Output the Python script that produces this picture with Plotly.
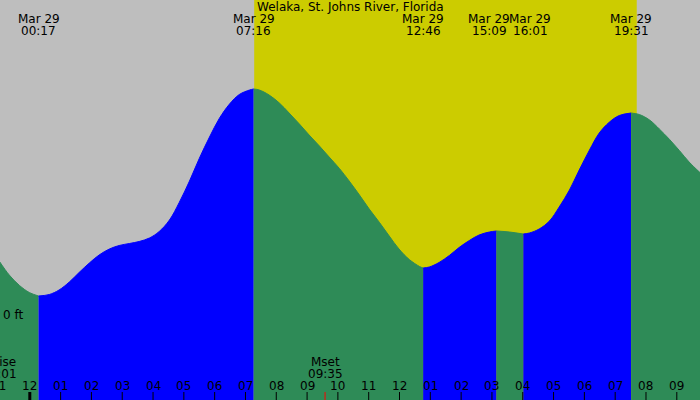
import plotly.graph_objects as go
import pandas as pd

title = "Welaka, St. Johns River, Florida"

# Water level readings (ft)
times = [
    "2025-03-28 23:01", "2025-03-28 23:20", "2025-03-28 23:40", "2025-03-28 23:59",
    "2025-03-29 00:17",
    "2025-03-29 00:38", "2025-03-29 00:57", "2025-03-29 01:17", "2025-03-29 01:36",
    "2025-03-29 01:56", "2025-03-29 02:15", "2025-03-29 02:35", "2025-03-29 02:54",
    "2025-03-29 03:14", "2025-03-29 03:33", "2025-03-29 03:53", "2025-03-29 04:12",
    "2025-03-29 04:32", "2025-03-29 04:51", "2025-03-29 05:11", "2025-03-29 05:30",
    "2025-03-29 05:50", "2025-03-29 06:09", "2025-03-29 06:29", "2025-03-29 06:48",
    "2025-03-29 07:08", "2025-03-29 07:16",
    "2025-03-29 07:27", "2025-03-29 07:46", "2025-03-29 08:06", "2025-03-29 08:25",
    "2025-03-29 08:45", "2025-03-29 09:04", "2025-03-29 09:24", "2025-03-29 09:43",
    "2025-03-29 10:03", "2025-03-29 10:22", "2025-03-29 10:42", "2025-03-29 11:01",
    "2025-03-29 11:21", "2025-03-29 11:40", "2025-03-29 11:59", "2025-03-29 12:19",
    "2025-03-29 12:39", "2025-03-29 12:46",
    "2025-03-29 12:58", "2025-03-29 13:17", "2025-03-29 13:37", "2025-03-29 13:56",
    "2025-03-29 14:16", "2025-03-29 14:35", "2025-03-29 14:55", "2025-03-29 15:09",
    "2025-03-29 15:34", "2025-03-29 16:01",
    "2025-03-29 16:13", "2025-03-29 16:32", "2025-03-29 16:52", "2025-03-29 17:11",
    "2025-03-29 17:31", "2025-03-29 17:50", "2025-03-29 18:10", "2025-03-29 18:29",
    "2025-03-29 18:49", "2025-03-29 19:08", "2025-03-29 19:31",
    "2025-03-29 19:47", "2025-03-29 20:07", "2025-03-29 20:26", "2025-03-29 20:46",
    "2025-03-29 21:05", "2025-03-29 21:24", "2025-03-29 21:46",
]
heights = [
    0.2675, 0.20, 0.1475, 0.1125,
    0.095,
    0.1025, 0.125, 0.165, 0.2125,
    0.26, 0.30, 0.33, 0.3475,
    0.3575, 0.3675, 0.385, 0.4175,
    0.475, 0.5625, 0.67, 0.7825,
    0.89, 0.9825, 1.055, 1.1025,
    1.125, 1.13,
    1.125, 1.10, 1.06, 1.01,
    0.955, 0.90, 0.845, 0.79,
    0.7325, 0.67, 0.60, 0.53,
    0.4625, 0.395, 0.33, 0.2775,
    0.2425, 0.235,
    0.24, 0.2625, 0.2975, 0.3375,
    0.3725, 0.40, 0.415, 0.42,
    0.415, 0.405,
    0.41, 0.43, 0.47, 0.54,
    0.625, 0.725, 0.825, 0.91,
    0.965, 0.9975, 1.01,
    1.0025, 0.975, 0.93, 0.8775,
    0.8225, 0.765, 0.71,
]

extreme_times = ["2025-03-29 00:17", "2025-03-29 07:16", "2025-03-29 12:46",
                 "2025-03-29 15:09", "2025-03-29 16:01", "2025-03-29 19:31"]
extreme_types = ["L", "H", "L", "H", "L", "H"]

sunrise = "2025-03-29 07:17"
sunset = "2025-03-29 19:42"

moon_names = ["Mrise", "Mset"]
moon_times = ["2025-03-28 23:01", "2025-03-29 09:35"]

tick_times = list(pd.date_range("2025-03-28 23:00", "2025-03-29 21:00", freq="h"))
tick_labels = ["11", "12", "01", "02", "03", "04", "05", "06", "07", "08", "09", "10",
               "11", "12", "01", "02", "03", "04", "05", "06", "07", "08", "09"]

x_range = ["2025-03-28 23:01:58", "2025-03-29 21:45:11"]
y_range = [-0.425, 1.575]

GREY = "#BEBEBE"
YELLOW = "#CCCC00"
GREEN = "#2E8B57"
BLUE = "#0000FF"
FONT = dict(family="DejaVu Sans", size=12, color="#000000")

W, H = 700, 400
x0 = pd.Timestamp(x_range[0])
x1 = pd.Timestamp(x_range[1])
span = (x1 - x0).total_seconds()


def xp(t):
    """time -> paper fraction (may fall outside 0..1)"""
    return (pd.Timestamp(t) - x0).total_seconds() / span


def py(p):
    return 1 - p / H


fig = go.Figure()

# split into rising / falling segments at the extremes
bounds = [0] + [times.index(t) for t in extreme_times] + [len(times) - 1]
seg_colors = []
for k in range(len(bounds) - 1):
    if k < len(extreme_types):
        seg_colors.append(BLUE if extreme_types[k] == "H" else GREEN)
    else:
        seg_colors.append(GREEN if extreme_types[-1] == "H" else BLUE)

for k in range(len(bounds) - 1):
    a, b = bounds[k], bounds[k + 1]
    xs = times[a:b + 1]
    ys = heights[a:b + 1]
    col = seg_colors[k]
    fig.add_trace(go.Scatter(x=xs, y=[-1.0] * len(xs), mode="lines",
                             line=dict(width=0, color=col), showlegend=False,
                             hoverinfo="skip"))
    fig.add_trace(go.Scatter(x=xs, y=ys, mode="lines", fill="tonexty",
                             fillcolor=col, line=dict(width=1, color=col, shape="spline",
                                                      smoothing=1.0),
                             showlegend=False, hoverinfo="skip"))

shapes = [dict(type="rect", xref="x", yref="paper", x0=sunrise, x1=sunset, y0=0, y1=1,
               fillcolor=YELLOW, line=dict(width=0), layer="below")]

tick_h = 8 / H
for t in tick_times:
    w = 3 if (t.hour == 0) else 1
    shapes.append(dict(type="line", xref="x", yref="paper", x0=t, x1=t, y0=0, y1=tick_h,
                       line=dict(color="#000000", width=w), layer="above"))
# moonset tick
shapes.append(dict(type="line", xref="x", yref="paper", x0=moon_times[1], x1=moon_times[1],
                   y0=0, y1=tick_h, line=dict(color="#FF0000", width=1), layer="above"))

annotations = [dict(text=title, xref="paper", yref="paper", x=0.5, y=py(7),
                    showarrow=False, font=FONT, xanchor="center", yanchor="middle")]

# label positions for extremes, pushed apart when they would collide
ext_px = [xp(t) * W for t in extreme_times]
label_w = 41
centers = list(ext_px)
for i in range(1, len(centers)):
    if centers[i] - centers[i - 1] < label_w:
        mid = (centers[i] + centers[i - 1]) / 2
        centers[i - 1] = mid - label_w / 2
        centers[i] = mid + label_w / 2

for t, c in zip(extreme_times, centers):
    ts = pd.Timestamp(t)
    annotations.append(dict(text=ts.strftime("%b %d").replace(" 0", " "), x=c / W,
                            xref="paper", yref="paper", y=py(19.5), showarrow=False,
                            font=FONT, xanchor="center", yanchor="middle"))
    annotations.append(dict(text=ts.strftime("%H:%M"), x=c / W, xref="paper",
                            yref="paper", y=py(31.5), showarrow=False, font=FONT,
                            xanchor="center", yanchor="middle"))

for t, lab in zip(tick_times, tick_labels):
    annotations.append(dict(text=lab, x=xp(t), xref="paper", yref="paper", y=py(385.5),
                            showarrow=False, font=FONT, xanchor="center", yanchor="middle"))

for name, t in zip(moon_names, moon_times):
    ts = pd.Timestamp(t)
    annotations.append(dict(text=name, x=xp(t), xref="paper", yref="paper", y=py(361.5),
                            showarrow=False, font=FONT, xanchor="center", yanchor="middle"))
    annotations.append(dict(text=ts.strftime("%H:%M"), x=xp(t), xref="paper",
                            yref="paper", y=py(373.5), showarrow=False, font=FONT,
                            xanchor="center", yanchor="middle"))

annotations.append(dict(text="0 ft", xref="paper", x=0, xshift=1, yref="y", y=0,
                        showarrow=False, font=FONT, xanchor="left", yanchor="middle"))

fig.update_layout(
    width=W, height=H,
    margin=dict(l=0, r=0, t=0, b=0),
    paper_bgcolor=GREY, plot_bgcolor=GREY,
    xaxis=dict(range=x_range, visible=False, showgrid=False, zeroline=False),
    yaxis=dict(range=y_range, visible=False, showgrid=False, zeroline=False),
    shapes=shapes, annotations=annotations, showlegend=False,
)

fig.write_html("out.html")
